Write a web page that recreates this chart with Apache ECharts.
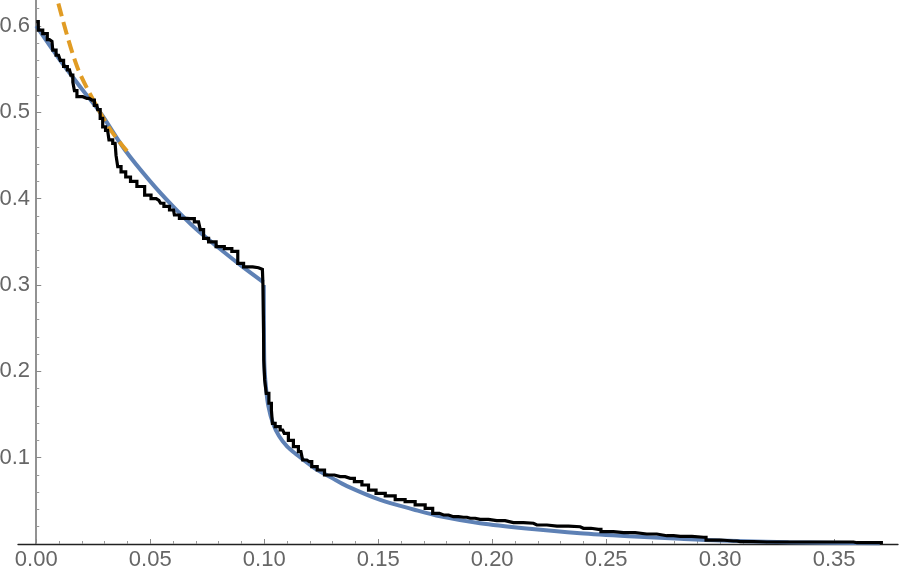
<!DOCTYPE html>
<html>
<head>
<meta charset="utf-8">
<script src="https://cdn.jsdelivr.net/npm/echarts@6/dist/echarts.min.js"></script>
<style>html,body{margin:0;padding:0;background:#fff}#chart{width:900px;height:575px}</style>
</head>
<body>
<div id="chart"></div>
<script>
// Tick labels
const xTicks = [0, 0.05, 0.10, 0.15, 0.20, 0.25, 0.30, 0.35];
const yTicks = [0.1, 0.2, 0.3, 0.4, 0.5, 0.6];

// Fitted curve, part before the jump at x = 0.1
const fitBefore = [
  [0.000, 0.600], [0.010, 0.562], [0.020, 0.527], [0.028, 0.500], [0.039, 0.456],
  [0.050, 0.420], [0.060, 0.391], [0.070, 0.365], [0.080, 0.343], [0.090, 0.322],
  [0.0997, 0.303]
];

// Fitted curve, part after the jump
const fitAfter = [
  [0.0998, 0.300], [0.0999, 0.240], [0.1001, 0.205], [0.1008, 0.180], [0.1018, 0.160],
  [0.1038, 0.140], [0.1065, 0.125], [0.1100, 0.113], [0.1140, 0.104], [0.1220, 0.088],
  [0.1300, 0.076], [0.1363, 0.067], [0.1509, 0.051], [0.1655, 0.040], [0.1772, 0.032],
  [0.1947, 0.024], [0.2150, 0.018], [0.2386, 0.0125], [0.2600, 0.009], [0.2825, 0.006],
  [0.3000, 0.004], [0.3300, 0.002], [0.3700, 0.001]
];

// Dashed short-range approximation
const approx = [
  [0.0040, 0.690], [0.0093, 0.630], [0.0179, 0.553], [0.0266, 0.5065],
  [0.0330, 0.478], [0.0398, 0.455]
];

// Empirical step curve
const empirical = [
  [0.0000, 0.605], [0.0018, 0.595], [0.0039, 0.591], [0.0058, 0.584], [0.0069, 0.582],
  [0.0076, 0.572], [0.0098, 0.566], [0.0113, 0.560], [0.0127, 0.553], [0.0146, 0.549],
  [0.0157, 0.543], [0.0164, 0.535], [0.0171, 0.525], [0.0186, 0.518], [0.0222, 0.516],
  [0.0244, 0.514], [0.0266, 0.508], [0.0273, 0.503], [0.0288, 0.493], [0.0295, 0.483],
  [0.0313, 0.479], [0.0325, 0.468], [0.0346, 0.464], [0.0354, 0.450], [0.0361, 0.437],
  [0.0383, 0.431], [0.0402, 0.425], [0.0425, 0.420], [0.0458, 0.414], [0.0493, 0.404],
  [0.0514, 0.400], [0.0538, 0.398], [0.0553, 0.3946], [0.0567, 0.391], [0.0602, 0.3868],
  [0.0610, 0.381], [0.0646, 0.377], [0.0675, 0.3768], [0.0712, 0.373], [0.0727, 0.364],
  [0.0741, 0.354], [0.0771, 0.350], [0.0807, 0.3445], [0.0843, 0.342], [0.0873, 0.339],
  [0.0895, 0.325], [0.0924, 0.321], [0.0975, 0.320], [0.0992, 0.318], [0.0997, 0.300],
  [0.0997, 0.250], [0.0999, 0.213], [0.1005, 0.190], [0.1013, 0.1745], [0.1028, 0.163],
  [0.1035, 0.155], [0.1037, 0.1398], [0.1059, 0.1359], [0.1081, 0.132], [0.1095, 0.128],
  [0.1117, 0.120], [0.1139, 0.1127], [0.1161, 0.107], [0.1176, 0.0973], [0.1198, 0.0953],
  [0.1219, 0.0895], [0.1246, 0.0857], [0.1283, 0.0799], [0.1333, 0.078], [0.1377, 0.076],
  [0.1414, 0.0722], [0.1443, 0.0683], [0.1472, 0.0625], [0.1509, 0.0587], [0.1553, 0.0558],
  [0.1596, 0.0515], [0.1640, 0.049], [0.1684, 0.0452], [0.1728, 0.0413], [0.1750, 0.0355],
  [0.1787, 0.0336], [0.1830, 0.0316], [0.1874, 0.031], [0.1904, 0.0298], [0.1947, 0.0286],
  [0.2020, 0.027], [0.2093, 0.0247], [0.2181, 0.024], [0.2196, 0.022], [0.2284, 0.0208],
  [0.2386, 0.020], [0.2400, 0.0182], [0.2466, 0.017], [0.2488, 0.0143], [0.2576, 0.0131],
  [0.2678, 0.0116], [0.2766, 0.0096], [0.2825, 0.0088], [0.2927, 0.0078], [0.2949, 0.0046],
  [0.3058, 0.0035], [0.3088, 0.0027], [0.3205, 0.0023], [0.3585, 0.0023], [0.3600, 0.0015],
  [0.3714, 0.0015]
];

const chart = echarts.init(document.getElementById('chart'), null, {renderer: 'canvas'});
const labelFont = {color: '#666', fontSize: 22, fontFamily: 'Liberation Sans, Arial, sans-serif'};
chart.setOption({
  animation: false,
  backgroundColor: '#fff',
  grid: {left: 18, right: 2, top: 0, bottom: 31, containLabel: false, outerBoundsMode: 'none'},
  xAxis: {
    type: 'value', min: -0.008, max: 0.378, splitNumber: 8,
    axisLine: {onZero: true, lineStyle: {color: '#222', width: 1.3}},
    axisTick: {show: true, inside: true, length: 5, customValues: xTicks, lineStyle: {color: '#888', width: 1}},
    minorTick: {show: true, splitNumber: 5, length: 3, lineStyle: {color: '#999', width: 1}},
    axisLabel: Object.assign({margin: 5, customValues: xTicks, formatter: v => v.toFixed(2)}, labelFont),
    splitLine: {show: false}
  },
  yAxis: {
    type: 'value', min: 0, max: 0.63, interval: 0.1,
    axisLine: {onZero: true, lineStyle: {color: '#777', width: 1.6}},
    axisTick: {show: true, inside: true, length: 5, customValues: yTicks, lineStyle: {color: '#888', width: 1}},
    minorTick: {show: true, splitNumber: 5, length: 3, lineStyle: {color: '#999', width: 1}},
    axisLabel: Object.assign({margin: -12, overflow: 'none', customValues: yTicks, formatter: v => v.toFixed(1)}, labelFont),
    splitLine: {show: false}
  },
  series: [
    {type: 'line', data: fitBefore, showSymbol: false, symbol: 'none', smooth: 0.3,
     lineStyle: {color: '#5E81B5', width: 4}, z: 2},
    {type: 'line', data: fitAfter, showSymbol: false, symbol: 'none', smooth: 0.3,
     lineStyle: {color: '#5E81B5', width: 4}, z: 2},
    {type: 'line', data: approx, showSymbol: false, symbol: 'none', smooth: 0.3,
     lineStyle: {color: '#E19C24', width: 4, type: [13, 6]}, z: 3},
    {type: 'line', data: empirical, showSymbol: false, symbol: 'none', step: 'middle',
     lineStyle: {color: '#000', width: 3.2, join: 'miter'}, z: 4}
  ]
});
</script>
</body>
</html>
